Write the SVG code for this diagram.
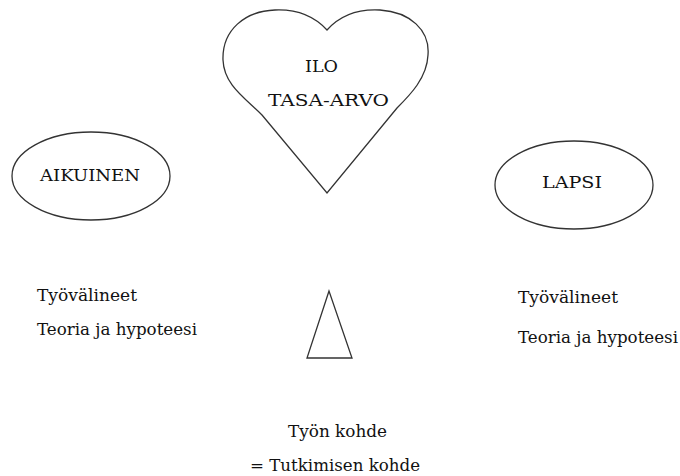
<svg xmlns="http://www.w3.org/2000/svg" width="680" height="476" viewBox="0 0 680 476">
<style>
.s{fill:none;stroke:#333;stroke-width:1.3}
.t{font-family:"DejaVu Serif","Liberation Serif",serif;font-size:16px;fill:#111}
</style>
<rect width="680" height="476" fill="#fff"/>
<g id="heart">
<path class="s" d="M327,30 C343,12 362,9 380,10 C410,12 430,30 428,55 C427,78 410,95 397,108 L327,193 L262,115 C245,98 224,85 223,60 C222,30 245,11 275,10 C298,9 315,17 327,30 Z"/>
<text class="t" x="305" y="72" textLength="33" lengthAdjust="spacingAndGlyphs">ILO</text>
<text class="t" x="268" y="106" textLength="121" lengthAdjust="spacingAndGlyphs">TASA-ARVO</text>
</g>
<g id="aikuinen">
<ellipse class="s" cx="91" cy="176" rx="79" ry="44"/>
<text class="t" x="40" y="181" textLength="100" lengthAdjust="spacingAndGlyphs">AIKUINEN</text>
</g>
<g id="lapsi">
<ellipse class="s" cx="574" cy="185" rx="79" ry="44"/>
<text class="t" x="542" y="188" textLength="60" lengthAdjust="spacingAndGlyphs">LAPSI</text>
</g>
<g id="triangle">
<polygon class="s" points="329,291 307,358 352,358"/>
</g>
<g id="left-text">
<text class="t" x="37" y="301" textLength="100" lengthAdjust="spacingAndGlyphs">Työvälineet</text>
<text class="t" x="37" y="335" textLength="160" lengthAdjust="spacingAndGlyphs">Teoria ja hypoteesi</text>
</g>
<g id="right-text">
<text class="t" x="518" y="303" textLength="100" lengthAdjust="spacingAndGlyphs">Työvälineet</text>
<text class="t" x="518" y="343" textLength="160" lengthAdjust="spacingAndGlyphs">Teoria ja hypoteesi</text>
</g>
<g id="bottom-text">
<text class="t" x="288" y="437" textLength="99" lengthAdjust="spacingAndGlyphs">Työn kohde</text>
<text class="t" x="250" y="471" textLength="170" lengthAdjust="spacingAndGlyphs">= Tutkimisen kohde</text>
</g>
<g id="connectors"></g>
</svg>
